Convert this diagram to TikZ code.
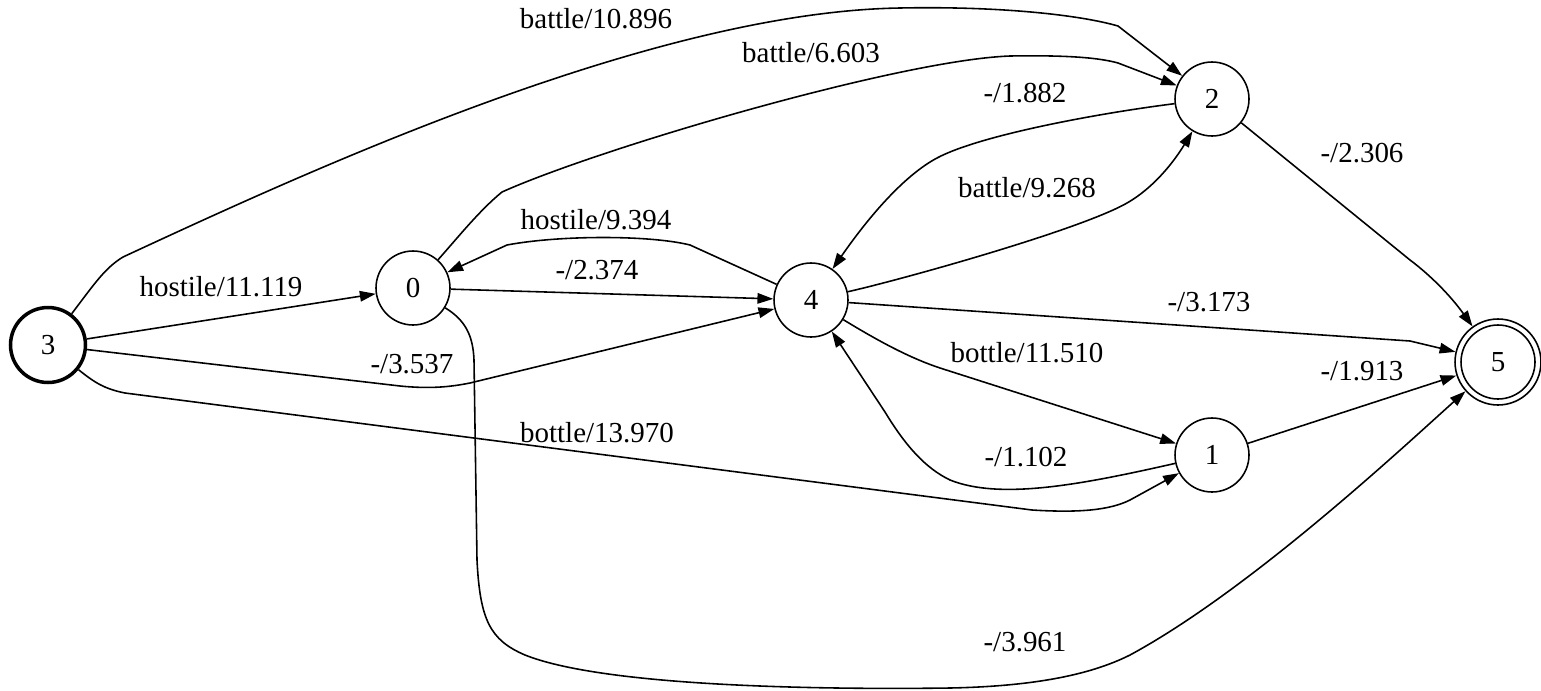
\documentclass[tikz,border=0pt]{standalone}
\usepackage{fontspec}
\setmainfont{Liberation Serif}
\usetikzlibrary{arrows.meta}

\tikzset{
  st/.style={draw, circle, line width=0.9pt, minimum size=1.48cm, inner sep=0pt},
  init/.style={st, line width=2pt, minimum size=1.5cm},
  fin/.style={st, minimum size=1.72cm},
  lbl/.style={inner sep=0pt}
}

\begin{document}
\begin{tikzpicture}[x=0.02cm, y=-0.02cm, line width=0.9pt,
    >={Triangle[length=9pt, width=6pt]},
    every node/.style={font=\fontsize{16.5}{20}\selectfont}]
        \useasboundingbox (0,0) rectangle (1541,690);
        % states
        \node[init] (n3) at (48,345) {3};
        \node[st] (n0) at (413,288) {0};
        \node[st] (n4) at (811,300) {4};
        \node[st] (n2) at (1212,99) {2};
        \node[st] (n1) at (1212,455) {1};
        \node[fin] (n5) at (1498,362) {5};
        \draw (n5.center) circle (0.74cm);
        % arcs out of 3
        \draw [->] (n3) .. controls (95,283) and (105,268) .. (123,257)
              .. controls (300,175) and (650,12) .. (900,8)
              .. controls (1000,6) and (1080,15) .. (1118,26) -- (n2);
        \draw [->] (n3) -- (n0);
        \draw [->] (n3) -- (400,386) .. controls (430,389) and (450,387) .. (470,383) -- (n4);
        \draw [->] (n3) .. controls (95,383) and (105,389) .. (125,393) -- (1032,510)
              .. controls (1080,513) and (1110,510) .. (1130,500) -- (n1);
        % arcs out of 0
        \draw [->] (n0) .. controls (460,235) and (480,210) .. (502,192)
              .. controls (600,148) and (900,60) .. (1010,56)
              .. controls (1070,55) and (1100,58) .. (1118,63) -- (n2);
        \draw [->] (n0) -- (n4);
        \draw [->] (n0) .. controls (465,320) and (473,335) .. (474,360) -- (477,560)
              .. controls (480,620) and (490,640) .. (525,655)
              .. controls (600,685) and (800,690) .. (950,688)
              .. controls (1050,686) and (1100,670) .. (1130,655)
              .. controls (1250,590) and (1400,450) .. (n5);
        % arcs out of 4
        \draw [->] (n4) -- (690,245) .. controls (650,235) and (560,235) .. (507,245) -- (n0);
        \draw [->] (n4) .. controls (900,280) and (1080,230) .. (1127,203)
              .. controls (1155,187) and (1175,160) .. (n2);
        \draw [->] (n4) -- (1410,341) -- (n5);
        \draw [->] (n4) .. controls (880,342) and (910,358) .. (940,368) -- (n1);
        % arcs out of 2 and 1
        \draw [->] (n2) .. controls (1100,113) and (980,135) .. (937,158)
              .. controls (905,175) and (870,215) .. (n4);
        \draw [->] (n2) -- (1410,260) .. controls (1430,275) and (1450,295) .. (n5);
        \draw [->] (n1) .. controls (1080,485) and (1000,500) .. (950,480)
              .. controls (925,468) and (905,445) .. (885,412) -- (n4);
        \draw [->] (n1) -- (n5);
        % weights
        \node[lbl] (w32) at (596,19) {battle/10.896};
        \node[lbl] (w02) at (811,53) {battle/6.603};
        \node[lbl] (w24) at (1025,93) {-/1.882};
        \node[lbl] (w25) at (1362,153) {-/2.306};
        \node[lbl] (w42) at (1027,188) {battle/9.268};
        \node[lbl] (w40) at (596,220) {hostile/9.394};
        \node[lbl] (w30) at (221,287) {hostile/11.119};
        \node[lbl] (w04) at (597,270) {-/2.374};
        \node[lbl] (w45) at (1209,302) {-/3.173};
        \node[lbl] (w34) at (412,364) {-/3.537};
        \node[lbl] (w41) at (1027,353) {bottle/11.510};
        \node[lbl] (w15) at (1362,371) {-/1.913};
        \node[lbl] (w31) at (597,433) {bottle/13.970};
        \node[lbl] (w14) at (1026,457) {-/1.102};
        \node[lbl] (w05) at (1025,642) {-/3.961};
\end{tikzpicture}
\end{document}
